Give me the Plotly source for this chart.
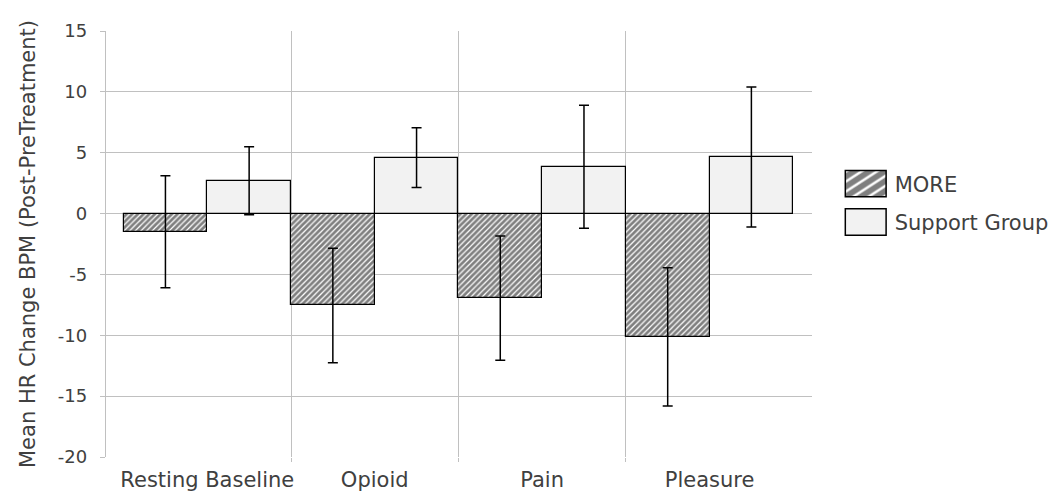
import plotly.graph_objects as go

categories = ["Resting Baseline", "Opioid", "Pain", "Pleasure"]
more_vals = [-1.5, -7.55, -6.95, -10.13]
more_err = [4.6, 4.7, 5.1, 5.67]
support_vals = [2.7, 4.6, 3.85, 4.65]
support_err = [2.8, 2.45, 5.05, 5.75]
y_ticks = [-20, -15, -10, -5, 0, 5, 10, 15]
y_ticktext = ["-20", "-15", "-10", "-5", "0", "5", "10", "15"]
y_title = "Mean HR Change BPM (Post-PreTreatment)"
series_names = ["MORE", "Support Group"]

xpos = list(range(len(categories)))
boundaries = [i + 0.5 for i in xpos[:-1]]

FONT = "DejaVu Sans"
TEXT = "#404040"
GRID = "#c0c0c0"

fig = go.Figure()
fig.add_trace(go.Bar(
    name=series_names[0], x=xpos, y=more_vals, legendgroup="a",
    marker=dict(color="white", line=dict(color="black", width=1.2),
                pattern=dict(shape="/", fgcolor="#000000", bgcolor="white",
                             size=4, solidity=0.7)),
    error_y=dict(type="data", array=more_err, color="black", thickness=1.5, width=5),
))
fig.add_trace(go.Bar(
    name=series_names[1], x=xpos, y=support_vals, legendgroup="b",
    marker=dict(color="#f2f2f2", line=dict(color="black", width=1.2)),
    error_y=dict(type="data", array=support_err, color="black", thickness=1.5, width=5),
))

fig.update_layout(
    width=1049, height=486,
    margin=dict(l=97.7, r=245.3, t=22.7, b=36.7, autoexpand=False),
    paper_bgcolor="white", plot_bgcolor="white",
    font=dict(family=FONT, size=18, color=TEXT),
    barmode="group", bargap=0, bargroupgap=0,
    legend=dict(x=1.035, y=0.689, xanchor="left", yanchor="top",
                font=dict(family=FONT, size=21, color=TEXT), tracegroupgap=8,
                itemwidth=48, bgcolor="rgba(0,0,0,0)"),
)
fig.update_xaxes(
    range=[-0.605, 3.612], tickmode="array", tickvals=xpos, ticktext=categories,
    showgrid=False, zeroline=False, showline=False, ticks="", automargin=False,
    tickfont=dict(family=FONT, size=21, color=TEXT), ticklabelstandoff=8,
    minor=dict(tickmode="array", tickvals=boundaries, showgrid=True,
               gridcolor=GRID, gridwidth=1.3, ticks="outside", ticklen=4,
               tickcolor=GRID),
)
fig.update_yaxes(
    range=[-20, 15], tickmode="array", tickvals=y_ticks, ticktext=y_ticktext,
    showgrid=True, gridcolor=GRID, gridwidth=1.3, zeroline=False,
    showline=True, linecolor=GRID, linewidth=1.3, automargin=False,
    ticks="outside", ticklen=5, tickcolor=GRID, ticklabelstandoff=9,
    tickfont=dict(family=FONT, size=18, color=TEXT),
    title=dict(text=y_title, font=dict(family=FONT, size=21, color=TEXT), standoff=16),
)

post = """
var gd = document.getElementById('{plot_id}');
function fixLegend(){
  gd.querySelectorAll('.legendpoints path').forEach(function(p){
    if (!p.dataset.scaled){
      var t = p.getAttribute('transform') || '';
      p.setAttribute('transform', t + ' scale(3.4,2.2)');
      p.style.vectorEffect = 'non-scaling-stroke';
      p.style.strokeWidth = '1.5px';
      p.dataset.scaled = '1';
    }
  });
}
fixLegend();
gd.on('plotly_afterplot', fixLegend);
"""
fig.write_html("out.html", post_script=post)
